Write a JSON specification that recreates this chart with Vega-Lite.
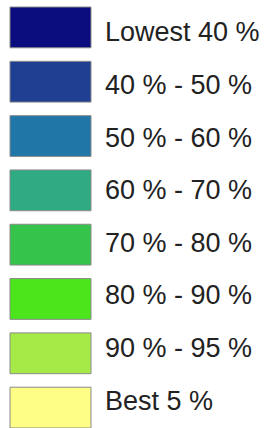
{
  "$schema": "https://vega.github.io/schema/vega-lite/v6.json",
  "padding": {"left": 9, "top": 6, "right": 0, "bottom": 1},
  "background": "white",
  "config": {"view": {"stroke": null}, "concat": {"spacing": 13}},
  "data": {"values": [
    {"label": "Lowest 40 %"},
    {"label": "40 % - 50 %"},
    {"label": "50 % - 60 %"},
    {"label": "60 % - 70 %"},
    {"label": "70 % - 80 %"},
    {"label": "80 % - 90 %"},
    {"label": "90 % - 95 %"},
    {"label": "Best 5 %"}
  ]},
  "hconcat": [
    {
      "width": 81,
      "height": 421,
      "mark": {"type": "rect", "stroke": "#8a8a8a", "strokeWidth": 1},
      "encoding": {
        "y": {"field": "label", "type": "ordinal", "sort": null, "axis": null,
              "scale": {"paddingInner": 0.249, "paddingOuter": 0}},
        "color": {"field": "label", "type": "nominal", "legend": null,
                  "scale": {"domain": ["Lowest 40 %", "40 % - 50 %", "50 % - 60 %", "60 % - 70 %", "70 % - 80 %", "80 % - 90 %", "90 % - 95 %", "Best 5 %"],
                            "range": ["#0b0c7d", "#1f3f93", "#2176a8", "#2fab84", "#35c34b", "#4ce51c", "#a6ea48", "#fefe86"]}}
      }
    },
    {
      "width": 168,
      "height": 421,
      "mark": {"type": "text", "align": "left", "baseline": "middle", "font": "Liberation Sans", "fontSize": 27, "color": "#222222"},
      "encoding": {
        "y": {"field": "label", "type": "ordinal", "sort": null, "axis": null,
              "scale": {"paddingInner": 0.249, "paddingOuter": 0}},
        "x": {"value": 0},
        "text": {"field": "label"}
      }
    }
  ]
}
